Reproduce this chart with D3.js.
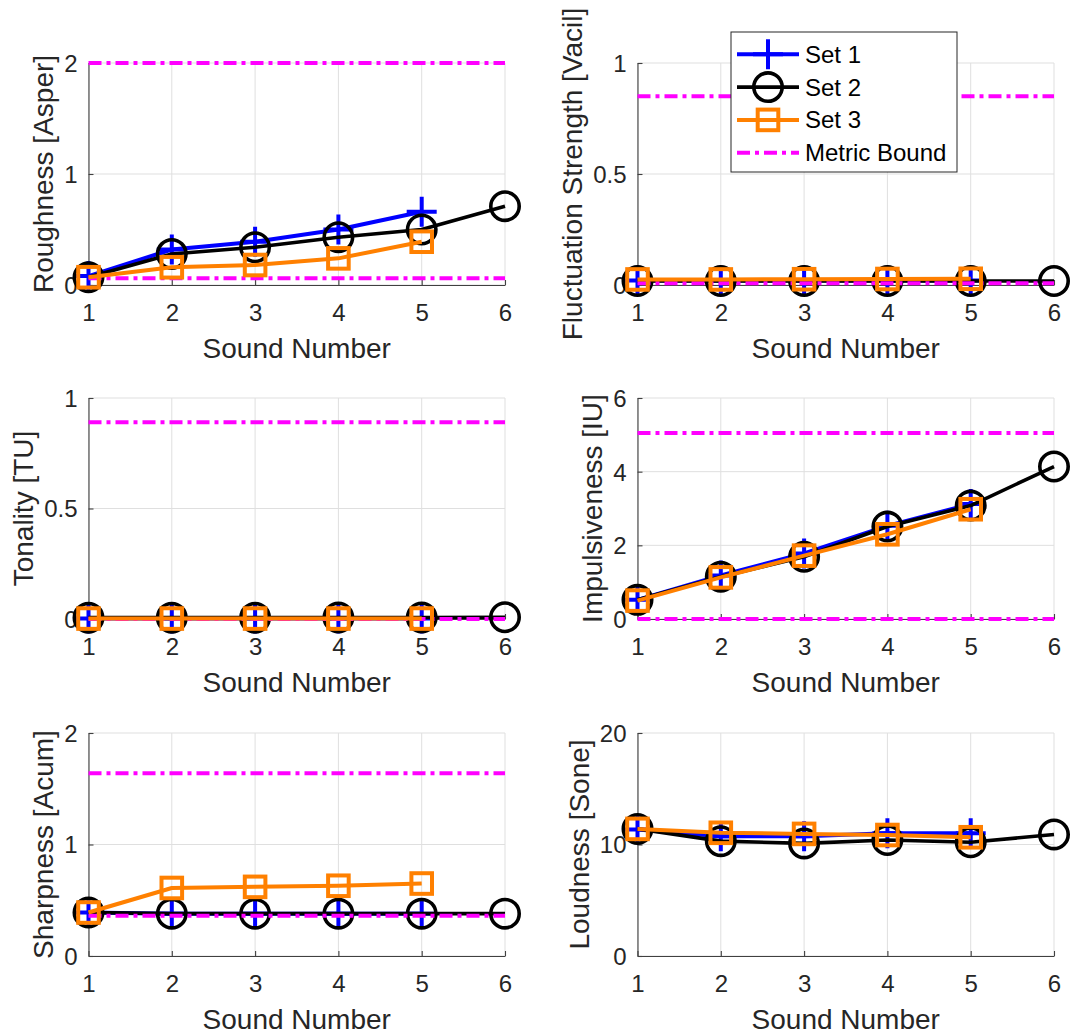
<!DOCTYPE html>
<html>
<head>
<meta charset="utf-8">
<script src="https://cdn.jsdelivr.net/npm/d3@7"></script>
<style>
  html, body { margin: 0; padding: 0; background: #ffffff; }
  svg { display: block; }
  text { font-family: "Liberation Sans", Arial, Helvetica, sans-serif; }
</style>
</head>
<body>
<svg id="fig" width="1071" height="1034"></svg>
<script>
// ---- data ----------------------------------------------------------
const soundNumber = [1, 2, 3, 4, 5, 6];
const xTicks = [1, 2, 3, 4, 5, 6];
const seriesNames = ["Set 1", "Set 2", "Set 3", "Metric Bound"];

const roughnessSet1 = [0.08, 0.32, 0.39, 0.50, 0.66];
const roughnessSet2 = [0.07, 0.28, 0.34, 0.43, 0.50, 0.71];
const roughnessSet3 = [0.07, 0.16, 0.18, 0.24, 0.39];
const roughnessBounds = [0.06, 2.0];
const roughnessTicks = [0, 1, 2];

const fluctuationSet1 = [0.020, 0.020, 0.020, 0.020, 0.020];
const fluctuationSet2 = [0.018, 0.018, 0.018, 0.018, 0.018, 0.018];
const fluctuationSet3 = [0.025, 0.025, 0.026, 0.027, 0.028];
const fluctuationBounds = [0.008, 0.85];
const fluctuationTicks = [0, 0.5, 1];

const tonalitySet1 = [0.002, 0.002, 0.002, 0.002, 0.002];
const tonalitySet2 = [0.006, 0.006, 0.006, 0.007, 0.007, 0.008];
const tonalitySet3 = [0.002, 0.002, 0.002, 0.002, 0.002];
const tonalityBounds = [0.0, 0.89];
const tonalityTicks = [0, 0.5, 1];

const impulsivenessSet1 = [0.52, 1.18, 1.78, 2.53, 3.12];
const impulsivenessSet2 = [0.52, 1.15, 1.69, 2.51, 3.08, 4.14];
const impulsivenessSet3 = [0.50, 1.13, 1.72, 2.30, 2.98];
const impulsivenessBounds = [0.0, 5.05];
const impulsivenessTicks = [0, 2, 4, 6];

const sharpnessSet1 = [0.39, 0.38, 0.38, 0.38, 0.38];
const sharpnessSet2 = [0.39, 0.38, 0.38, 0.38, 0.38, 0.38];
const sharpnessSet3 = [0.39, 0.61, 0.62, 0.63, 0.65];
const sharpnessBounds = [0.36, 1.64];
const sharpnessTicks = [0, 1, 2];

const loudnessSet1 = [11.35, 10.75, 10.75, 11.0, 11.0];
const loudnessSet2 = [11.4, 10.3, 10.1, 10.4, 10.2, 10.9];
const loudnessSet3 = [11.4, 11.05, 10.95, 10.85, 10.65];
const loudnessBounds = [];
const loudnessTicks = [0, 10, 20];

// ---- panel table built from the arrays above -------------------------
const panels = [
  { label: "Roughness [Asper]", ticks: roughnessTicks, sets: [roughnessSet1, roughnessSet2, roughnessSet3], bounds: roughnessBounds },
  { label: "Fluctuation Strength [Vacil]", ticks: fluctuationTicks, sets: [fluctuationSet1, fluctuationSet2, fluctuationSet3], bounds: fluctuationBounds },
  { label: "Tonality [TU]", ticks: tonalityTicks, sets: [tonalitySet1, tonalitySet2, tonalitySet3], bounds: tonalityBounds },
  { label: "Impulsiveness [IU]", ticks: impulsivenessTicks, sets: [impulsivenessSet1, impulsivenessSet2, impulsivenessSet3], bounds: impulsivenessBounds },
  { label: "Sharpness [Acum]", ticks: sharpnessTicks, sets: [sharpnessSet1, sharpnessSet2, sharpnessSet3], bounds: sharpnessBounds },
  { label: "Loudness [Sone]", ticks: loudnessTicks, sets: [loudnessSet1, loudnessSet2, loudnessSet3], bounds: loudnessBounds }
];

// ---- styling ----------------------------------------------------------
const textColor = "#262626";
const axisColor = "#404040";
const gridColor = "#dfdfdf";
const boundColor = "#ff00ff";
const boundDash = "13,5,4,5";
const boundWidth = 4;
const tickFont = 24, labelFont = 28, legendFont = 24;

const seriesStyle = [
  { color: "#0000ff", width: 4, marker: "plus" },
  { color: "#000000", width: 3.6, marker: "circle" },
  { color: "#ff8000", width: 4, marker: "square" }
];

// subplot grid
const cols = [{ x0: 88.5, x1: 505 }, { x0: 637.5, x1: 1054 }];
const rows = [{ y0: 63, y1: 285 }, { y0: 398, y1: 619 }, { y0: 733, y1: 956 }];

const svg = d3.select("#fig");

function drawMarker(g, type, color, sw) {
  if (type === "plus") {
    g.append("path").attr("d", "M-15,0H15M0,-15V15")
      .attr("stroke", color).attr("stroke-width", sw).attr("fill", "none");
  } else if (type === "circle") {
    g.append("circle").attr("r", 14.2)
      .attr("stroke", color).attr("stroke-width", sw).attr("fill", "none");
  } else {
    g.append("rect").attr("x", -10.3).attr("y", -10.3).attr("width", 20.6).attr("height", 20.6)
      .attr("stroke", color).attr("stroke-width", sw).attr("fill", "none");
  }
}

panels.forEach((p, i) => {
  const c = cols[i % 2], r = rows[Math.floor(i / 2)];
  const x = d3.scaleLinear().domain([1, 6]).range([c.x0, c.x1]);
  const yMax = p.ticks[p.ticks.length - 1];
  const y = d3.scaleLinear().domain([0, yMax]).range([r.y1, r.y0]);
  const g = svg.append("g");

  // grid
  g.append("g").selectAll("line").data(xTicks).join("line")
    .attr("x1", d => x(d)).attr("x2", d => x(d))
    .attr("y1", r.y0).attr("y2", r.y1)
    .attr("stroke", gridColor).attr("stroke-width", 1);
  g.append("g").selectAll("line").data(p.ticks).join("line")
    .attr("x1", c.x0).attr("x2", c.x1)
    .attr("y1", d => y(d)).attr("y2", d => y(d))
    .attr("stroke", gridColor).attr("stroke-width", 1);

  // axes (ticks pointing inward)
  const xAxis = g.append("g").attr("transform", `translate(0,${r.y1})`)
    .call(d3.axisBottom(x).tickValues(xTicks).tickFormat(d3.format("d"))
      .tickSize(-5).tickSizeOuter(0).tickPadding(19));
  const yAxis = g.append("g").attr("transform", `translate(${c.x0},0)`)
    .call(d3.axisLeft(y).tickValues(p.ticks).tickFormat(d => String(d))
      .tickSize(-5).tickSizeOuter(0).tickPadding(11));
  [xAxis, yAxis].forEach(a => {
    a.select(".domain").attr("stroke", axisColor).attr("stroke-width", 1.1);
    a.selectAll(".tick line").attr("stroke", axisColor).attr("stroke-width", 1.1);
    a.selectAll(".tick text").attr("fill", textColor).attr("font-size", tickFont)
      .attr("font-family", null);
  });
  xAxis.selectAll(".tick text").attr("dy", "0.71em");
  yAxis.selectAll(".tick text").attr("dy", "0.35em");

  // axis titles
  let maxW = 0;
  yAxis.selectAll(".tick text").each(function () {
    maxW = Math.max(maxW, this.getComputedTextLength());
  });
  g.append("text")
    .attr("x", (c.x0 + c.x1) / 2).attr("y", r.y1 + 73)
    .attr("text-anchor", "middle").attr("font-size", labelFont).attr("fill", textColor)
    .text("Sound Number");
  g.append("text")
    .attr("transform", `translate(${c.x0 - 11 - maxW - 11},${(r.y0 + r.y1) / 2}) rotate(-90)`)
    .attr("text-anchor", "middle").attr("font-size", labelFont).attr("fill", textColor)
    .text(p.label);

  const line = d3.line().x((d, k) => x(soundNumber[k])).y(d => y(d));

  function drawSeries(k) {
    const s = seriesStyle[k], vals = p.sets[k];
    g.append("path").datum(vals).attr("d", line)
      .attr("fill", "none").attr("stroke", s.color).attr("stroke-width", s.width)
      .attr("stroke-linejoin", "round");
    vals.forEach((v, j) => {
      const m = g.append("g").attr("transform", `translate(${x(soundNumber[j])},${y(v)})`);
      drawMarker(m, s.marker, s.color, s.width);
    });
  }

  drawSeries(0);
  drawSeries(1);
  // metric bounds
  g.append("g").selectAll("line").data(p.bounds).join("line")
    .attr("x1", x(1)).attr("x2", x(6))
    .attr("y1", d => y(d)).attr("y2", d => y(d))
    .attr("stroke", boundColor).attr("stroke-width", boundWidth)
    .attr("stroke-dasharray", boundDash);
  drawSeries(2);
});

// ---- legend (in the fluctuation-strength panel) ----------------------
const leg = svg.append("g");
leg.append("rect").attr("x", 731).attr("y", 32).attr("width", 226).attr("height", 140)
  .attr("fill", "#ffffff").attr("stroke", "#262626").attr("stroke-width", 1);
const legY = d3.scalePoint().domain(seriesNames).range([54.3, 152.7]);
seriesNames.forEach((name, k) => {
  const yy = legY(name);
  if (k < 3) {
    const s = seriesStyle[k];
    leg.append("line").attr("x1", 737).attr("x2", 799).attr("y1", yy).attr("y2", yy)
      .attr("stroke", s.color).attr("stroke-width", s.width);
    const m = leg.append("g").attr("transform", `translate(768,${yy})`);
    drawMarker(m, s.marker, s.color, s.width);
  } else {
    leg.append("line").attr("x1", 737).attr("x2", 799).attr("y1", yy).attr("y2", yy)
      .attr("stroke", boundColor).attr("stroke-width", boundWidth).attr("stroke-dasharray", boundDash);
  }
  leg.append("text").attr("x", 805).attr("y", yy).attr("dy", "0.35em")
    .attr("font-size", legendFont).attr("fill", "#000000").text(name);
});
</script>
</body>
</html>
